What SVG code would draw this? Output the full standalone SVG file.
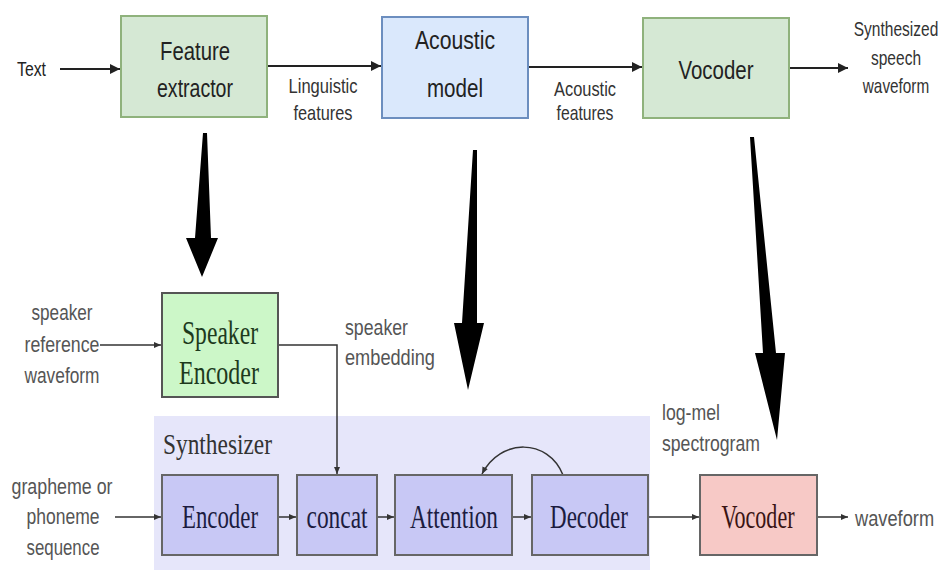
<svg xmlns="http://www.w3.org/2000/svg" width="947" height="588" viewBox="0 0 947 588">
<style>
.sans{font-family:"Liberation Sans",Arial,sans-serif;fill:#222}
.lbl{font-family:"Liberation Sans",Arial,sans-serif;fill:#333;font-size:21px}
.glbl{font-family:"Liberation Sans",Arial,sans-serif;fill:#555;font-size:22px}
.serif{font-family:"Liberation Serif","Times New Roman",serif}
.c{stroke:#222;stroke-width:2;fill:none}
.t{stroke:#333;stroke-width:1.5;fill:none}
.big{fill:#000}
</style>
<defs>
<marker id="ah" markerUnits="userSpaceOnUse" markerWidth="12" markerHeight="12" refX="10" refY="6" orient="auto"><path d="M0,1 L10,6 L0,11 z" fill="#222"/></marker>
<marker id="as" markerUnits="userSpaceOnUse" markerWidth="8" markerHeight="8" refX="7" refY="4" orient="auto"><path d="M0,1 L7,4 L0,7 z" fill="#333"/></marker>
</defs>
<rect width="947" height="588" fill="#fff"/>

<g id="synthesizer">
<rect x="154" y="416" width="496" height="154" fill="#e6e6fa"/>
<text class="serif" x="163" y="454" font-size="30" fill="#333" textLength="109" lengthAdjust="spacingAndGlyphs">Synthesizer</text>
</g>

<g id="connectors">
<line class="c" x1="60" y1="69" x2="120" y2="69" marker-end="url(#ah)"/>
<line class="c" x1="267" y1="66" x2="381" y2="66" marker-end="url(#ah)"/>
<line class="c" x1="528" y1="67" x2="642" y2="67" marker-end="url(#ah)"/>
<line class="c" x1="790" y1="68" x2="848" y2="68" marker-end="url(#ah)"/>
<line class="t" x1="100" y1="345" x2="161" y2="345" marker-end="url(#as)"/>
<path class="t" d="M278,345 H337 V474" marker-end="url(#as)"/>
<line class="t" x1="115" y1="517" x2="161" y2="517" marker-end="url(#as)"/>
<line class="t" x1="279" y1="517" x2="296" y2="517" marker-end="url(#as)"/>
<line class="t" x1="378" y1="517" x2="394" y2="517" marker-end="url(#as)"/>
<line class="t" x1="513" y1="517" x2="531" y2="517" marker-end="url(#as)"/>
<line class="t" x1="649" y1="517" x2="699" y2="517" marker-end="url(#as)"/>
<line class="t" x1="818" y1="517" x2="848" y2="517" marker-end="url(#as)"/>
<path class="t" d="M563,475 C548,438 500,438 482,474" marker-end="url(#as)"/>
<polygon class="big" points="203,133 207,133 211,238 218,238 202,277 186,238 195,238"/>
<polygon class="big" points="473,150 477,150 477,323 484,323 468,390 454,323 462,323"/>
<polygon class="big" points="750,137 754,137 776,353 785,353 777,440 755,353 763,353"/>
</g>

<g id="text-in">
<text class="sans" x="17" y="76" font-size="20" textLength="29" lengthAdjust="spacingAndGlyphs">Text</text>
</g>

<g id="feature-extractor">
<rect x="121" y="16" width="146" height="101" fill="#d5e8d4" stroke="#8fb27c" stroke-width="2"/>
<text class="sans" x="195" y="60" font-size="26" text-anchor="middle" textLength="70" lengthAdjust="spacingAndGlyphs">Feature</text>
<text class="sans" x="195" y="97" font-size="26" text-anchor="middle" textLength="76" lengthAdjust="spacingAndGlyphs">extractor</text>
</g>

<g id="linguistic-label">
<text class="lbl" x="323" y="93" text-anchor="middle" textLength="69" lengthAdjust="spacingAndGlyphs">Linguistic</text>
<text class="lbl" x="323" y="120" text-anchor="middle" textLength="59" lengthAdjust="spacingAndGlyphs">features</text>
</g>

<g id="acoustic-model">
<rect x="382" y="17" width="146" height="101" fill="#dae8fc" stroke="#6c8ebf" stroke-width="2"/>
<text class="sans" x="455" y="49" font-size="26" text-anchor="middle" textLength="80" lengthAdjust="spacingAndGlyphs">Acoustic</text>
<text class="sans" x="455" y="97" font-size="26" text-anchor="middle" textLength="56" lengthAdjust="spacingAndGlyphs">model</text>
</g>

<g id="acoustic-label">
<text class="lbl" x="585" y="96" text-anchor="middle" textLength="62" lengthAdjust="spacingAndGlyphs">Acoustic</text>
<text class="lbl" x="585" y="120" text-anchor="middle" textLength="57" lengthAdjust="spacingAndGlyphs">features</text>
</g>

<g id="vocoder-top">
<rect x="643" y="18" width="146" height="100" fill="#d5e8d4" stroke="#8fb27c" stroke-width="2"/>
<text class="sans" x="716" y="79" font-size="26" text-anchor="middle" textLength="75" lengthAdjust="spacingAndGlyphs">Vocoder</text>
</g>

<g id="synth-speech">
<text class="lbl" transform="translate(896,36) scale(0.74,1)" text-anchor="middle">Synthesized</text>
<text class="lbl" transform="translate(896,65) scale(0.74,1)" text-anchor="middle">speech</text>
<text class="lbl" transform="translate(896,93) scale(0.73,1)" text-anchor="middle">waveform</text>
</g>

<g id="speaker-ref">
<text class="glbl" x="62" y="320" text-anchor="middle" textLength="61" lengthAdjust="spacingAndGlyphs">speaker</text>
<text class="glbl" x="62" y="352" text-anchor="middle" textLength="75" lengthAdjust="spacingAndGlyphs">reference</text>
<text class="glbl" x="62" y="383" text-anchor="middle" textLength="75" lengthAdjust="spacingAndGlyphs">waveform</text>
</g>

<g id="speaker-encoder">
<rect x="162" y="293" width="116" height="104" fill="#ccf7c8" stroke="#555" stroke-width="2"/>
<text class="serif" x="220" y="344" font-size="34" fill="#1d3a1d" text-anchor="middle" textLength="76" lengthAdjust="spacingAndGlyphs">Speaker</text>
<text class="serif" x="219" y="384" font-size="34" fill="#1d3a1d" text-anchor="middle" textLength="80" lengthAdjust="spacingAndGlyphs">Encoder</text>
</g>

<g id="speaker-embedding">
<text class="glbl" x="345" y="335" textLength="63" lengthAdjust="spacingAndGlyphs">speaker</text>
<text class="glbl" x="345" y="365" textLength="90" lengthAdjust="spacingAndGlyphs">embedding</text>
</g>

<g id="grapheme">
<text class="glbl" x="62" y="494" text-anchor="middle" textLength="101" lengthAdjust="spacingAndGlyphs">grapheme or</text>
<text class="glbl" x="63" y="524" text-anchor="middle" textLength="73" lengthAdjust="spacingAndGlyphs">phoneme</text>
<text class="glbl" x="63" y="555" text-anchor="middle" textLength="73" lengthAdjust="spacingAndGlyphs">sequence</text>
</g>

<g id="encoder">
<rect x="162" y="475" width="116" height="80" fill="#c8c8f5" stroke="#666" stroke-width="2"/>
<text class="serif" x="220" y="528" font-size="34" fill="#1c1c40" text-anchor="middle" textLength="76" lengthAdjust="spacingAndGlyphs">Encoder</text>
</g>

<g id="concat">
<rect x="297" y="475" width="80" height="80" fill="#c8c8f5" stroke="#666" stroke-width="2"/>
<text class="serif" x="337" y="528" font-size="34" fill="#1c1c40" text-anchor="middle" textLength="61" lengthAdjust="spacingAndGlyphs">concat</text>
</g>

<g id="attention">
<rect x="395" y="475" width="117" height="80" fill="#c8c8f5" stroke="#666" stroke-width="2"/>
<text class="serif" x="454" y="528" font-size="34" fill="#1c1c40" text-anchor="middle" textLength="88" lengthAdjust="spacingAndGlyphs">Attention</text>
</g>

<g id="decoder">
<rect x="532" y="475" width="116" height="80" fill="#c8c8f5" stroke="#666" stroke-width="2"/>
<text class="serif" x="589" y="528" font-size="34" fill="#1c1c40" text-anchor="middle" textLength="78" lengthAdjust="spacingAndGlyphs">Decoder</text>
</g>

<g id="log-mel">
<text class="glbl" x="662" y="420" textLength="58" lengthAdjust="spacingAndGlyphs">log-mel</text>
<text class="glbl" x="662" y="451" textLength="98" lengthAdjust="spacingAndGlyphs">spectrogram</text>
</g>

<g id="vocoder-bottom">
<rect x="700" y="475" width="117" height="80" fill="#f7c9c6" stroke="#666" stroke-width="2"/>
<text class="serif" x="758" y="528" font-size="34" fill="#3a1414" text-anchor="middle" textLength="73" lengthAdjust="spacingAndGlyphs">Vocoder</text>
</g>

<g id="waveform-out">
<text class="glbl" transform="translate(855,526) scale(0.83,1)">waveform</text>
</g>
</svg>
